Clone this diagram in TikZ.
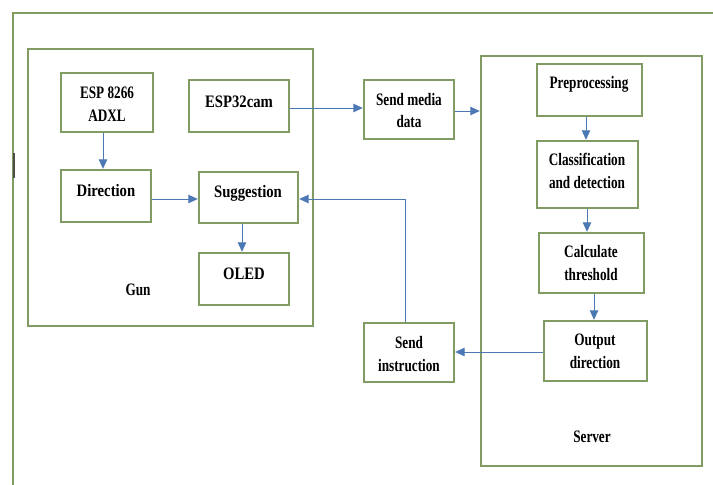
\documentclass[tikz,border=0pt]{standalone}
\usepackage{fontspec}
\setmainfont{Liberation Serif}
\newfontfamily\bigf[FakeStretch=0.84]{Liberation Serif}
\newfontfamily\smf[FakeStretch=0.755]{Liberation Serif}
\usetikzlibrary{arrows.meta}
\definecolor{gframe}{HTML}{809C62}
\definecolor{barrow}{HTML}{4C78B4}
\tikzset{
  box/.style={draw=gframe, line width=2.4pt, inner sep=0pt, rectangle},
  btxt/.style={anchor=base, inner sep=0pt, font=\bigf\bfseries\fontsize{17.5}{21}\selectfont},
  stxt/.style={anchor=base, inner sep=0pt, font=\smf\bfseries\fontsize{17.5}{21}\selectfont},
  arr/.style={draw=barrow, line width=1pt, -{Triangle[length=9.5pt,width=8.5pt,fill=barrow]}},
}
\begin{document}
\begin{tikzpicture}[x=1pt,y=-1pt]
\useasboundingbox (0,0) rectangle (713,485);
% outer frame
\draw[gframe, line width=2.2pt] (13,485) -- (13,13) -- (713,13);
\draw[black!70, line width=1.6pt] (14,153) -- (14,178);
% gun group
\node[box, minimum width=285pt, minimum height=277pt] (gun) at (170.5,187.5) {};
\node[box, minimum width=92pt, minimum height=59pt] (esp) at (107,102.5) {};
\node[box, minimum width=100pt, minimum height=52pt] (cam) at (239,106) {};
\node[box, minimum width=90pt, minimum height=52pt] (dir) at (106,196) {};
\node[box, minimum width=99pt, minimum height=51pt] (sug) at (248.5,197.5) {};
\node[box, minimum width=90pt, minimum height=52pt] (oled) at (244,279) {};
% middle
\node[box, minimum width=90pt, minimum height=59pt] (sm) at (409,109.5) {};
\node[box, minimum width=90pt, minimum height=59pt] (si) at (409,352.5) {};
% server group
\node[box, minimum width=221pt, minimum height=410pt] (srv) at (591.5,261) {};
\node[box, minimum width=105pt, minimum height=52pt] (pre) at (589.5,90) {};
\node[box, minimum width=101pt, minimum height=67pt] (cls) at (587.5,174.5) {};
\node[box, minimum width=105pt, minimum height=60pt] (calc) at (591.5,263) {};
\node[box, minimum width=103pt, minimum height=60pt] (out) at (595.5,351) {};
% texts
\node[stxt] (espa) at (107,98) {ESP 8266};
\node[stxt] (espb) at (107,121) {ADXL};
\node[btxt] (camt) at (239,107) {ESP32cam};
\node[btxt] (dirt) at (106,196) {Direction};
\node[btxt] (sugt) at (248,197) {Suggestion};
\node[btxt] (oledt) at (244,279) {OLED};
\node[stxt] (gunt) at (138,295) {Gun};
\node[stxt] (sma) at (409,105) {Send media};
\node[stxt] (smb) at (409,127) {data};
\node[stxt] (sia) at (409,348) {Send};
\node[stxt] (sib) at (409,371) {instruction};
\node[stxt] (pret) at (589,88) {Preprocessing};
\node[stxt] (clsa) at (587,165) {Classification};
\node[stxt] (clsb) at (587,188) {and detection};
\node[stxt] (calca) at (591,257) {Calculate};
\node[stxt] (calcb) at (591,280) {threshold};
\node[stxt] (outa) at (595,345) {Output};
\node[stxt] (outb) at (595,368) {direction};
\node[stxt] (srvt) at (592,442) {Server};
% connectors
\draw[arr] (esp.south -| 103,0) -- (dir.north -| 103,0);
\draw[arr] (dir.east |- 0,199) -- (sug.west |- 0,199);
\draw[arr] (sug.south -| 242,0) -- (oled.north -| 242,0);
\draw[arr] (cam.east |- 0,108) -- (sm.west |- 0,108);
\draw[arr] (sm.east |- 0,111) -- (srv.west |- 0,111);
\draw[arr] (pre.south -| 586,0) -- (cls.north -| 586,0);
\draw[arr] (cls.south -| 587,0) -- (calc.north -| 587,0);
\draw[arr] (calc.south -| 594,0) -- (out.north -| 594,0);
\draw[arr] (out.west |- 0,352) -- (si.east |- 0,352);
\draw[arr] (si.north -| 405,0) |- (sug.east |- 0,199);
\end{tikzpicture}
\end{document}
